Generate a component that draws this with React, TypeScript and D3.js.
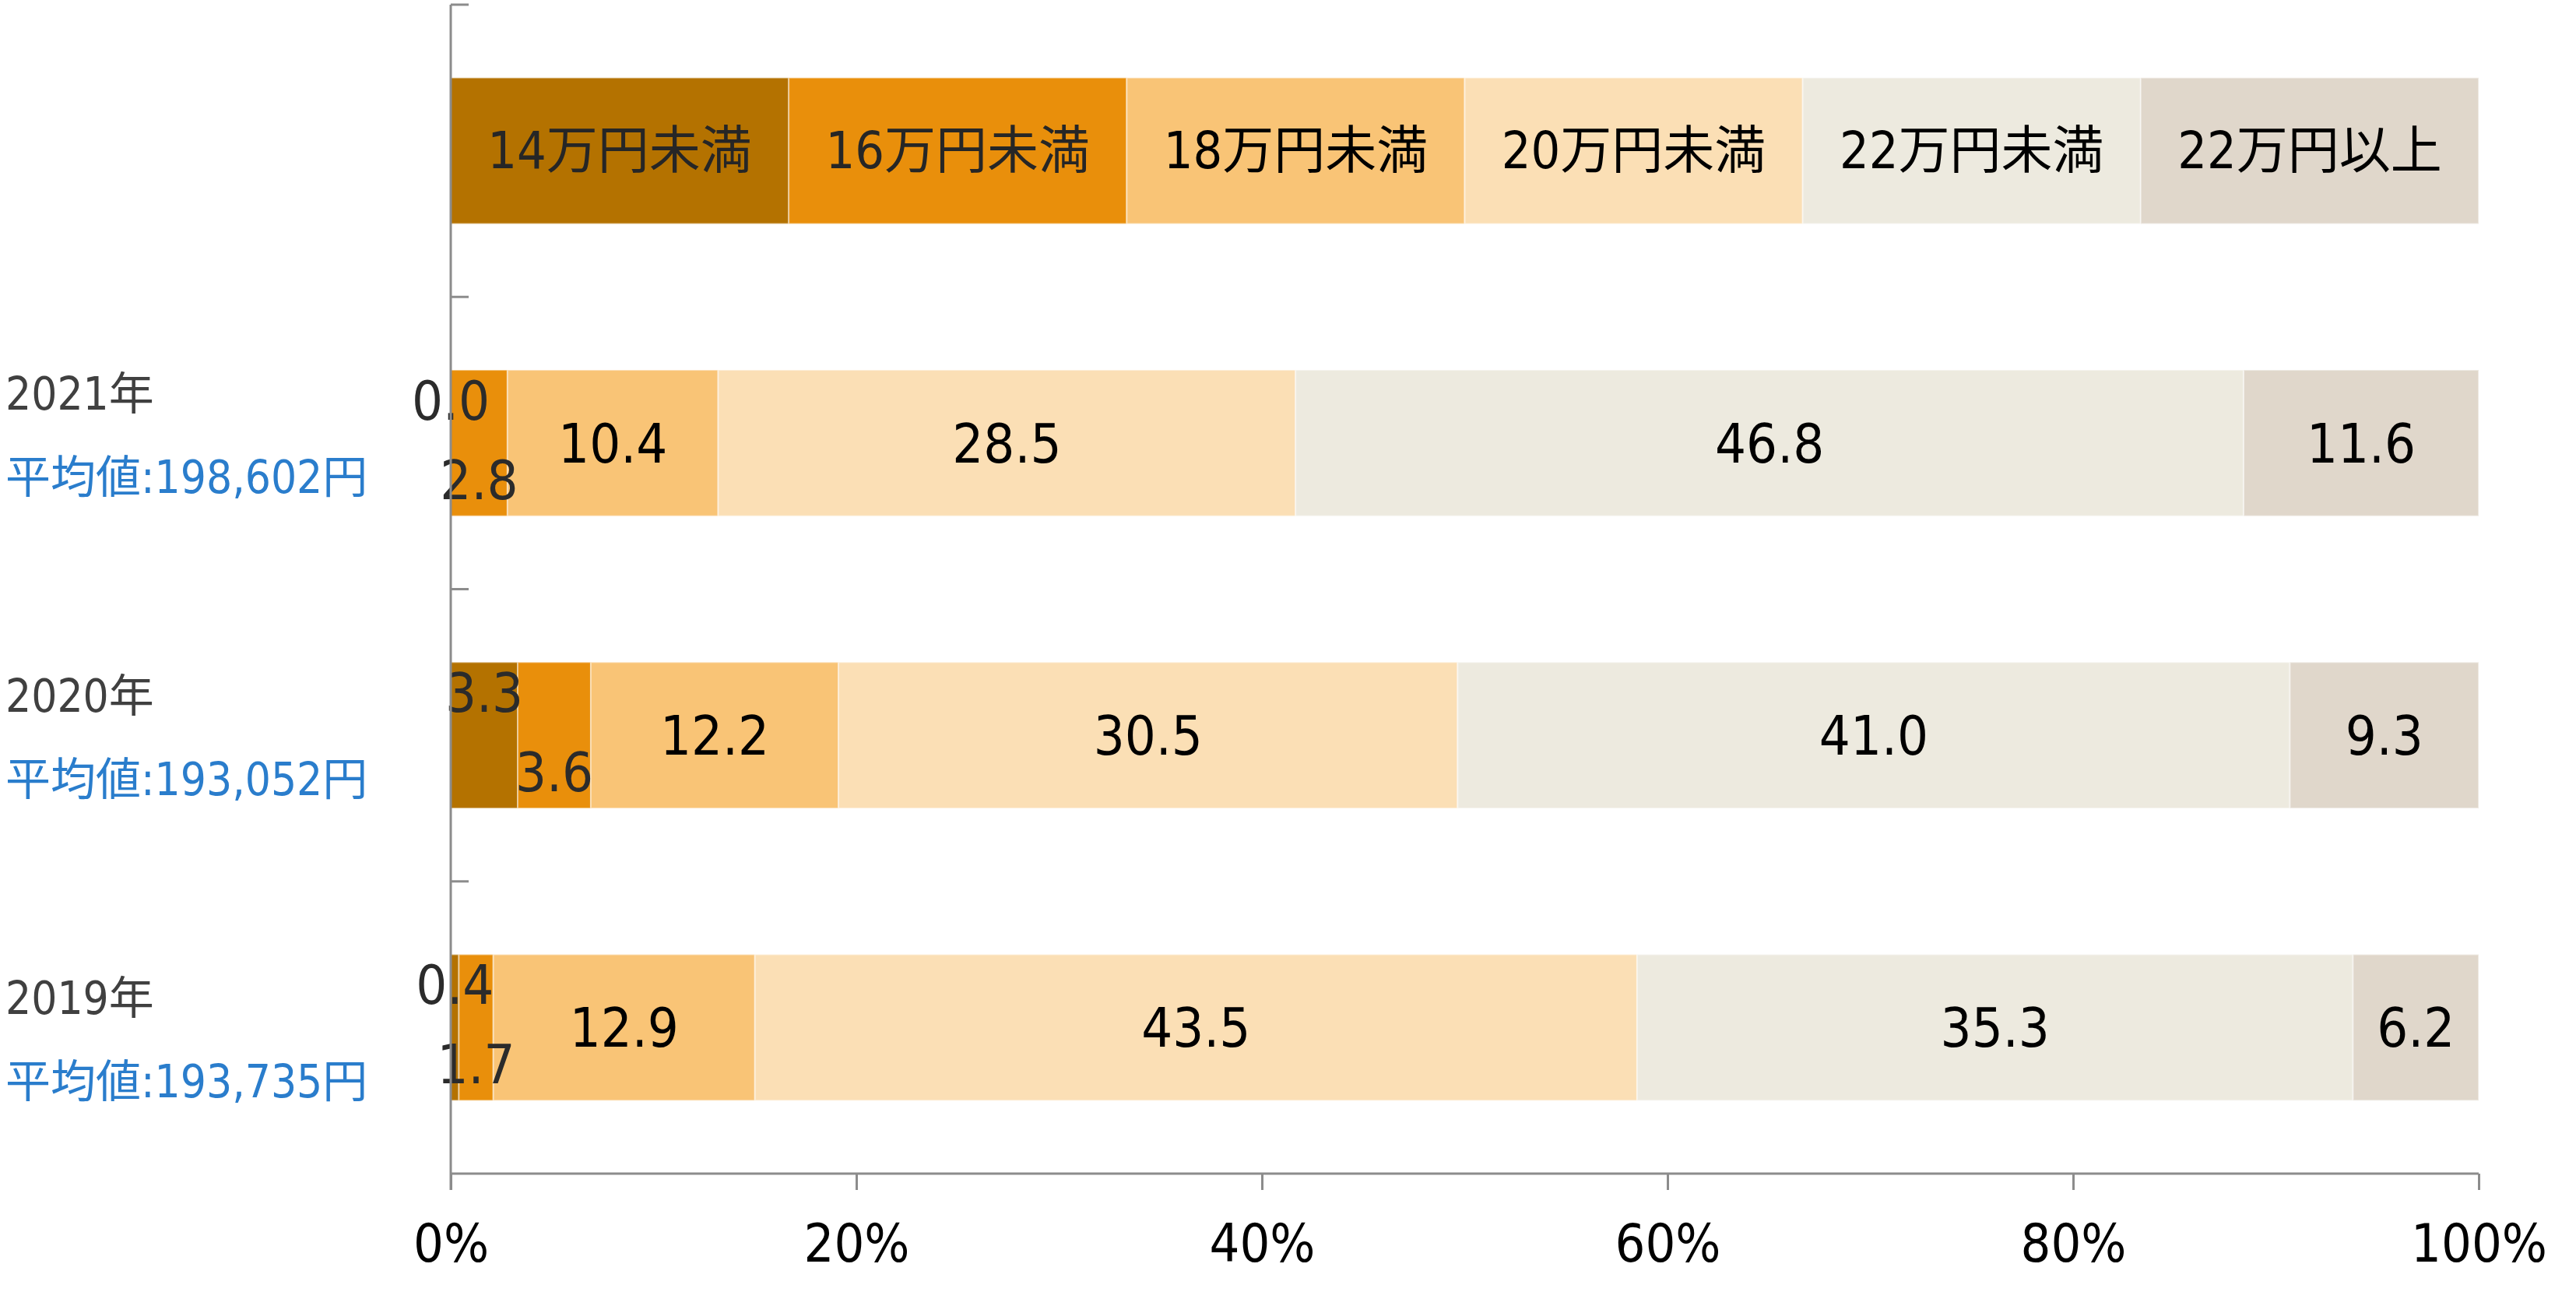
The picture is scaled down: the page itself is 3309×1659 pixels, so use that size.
import { useEffect, useRef } from 'react'
import * as d3 from 'd3'

// income brackets (series) and their colours
const categories = ['14万円未満', '16万円未満', '18万円未満', '20万円未満', '22万円未満', '22万円以上']
const colors = ['#B47200', '#E98F0B', '#F9C476', '#FBDFB5', '#EDEADF', '#E0D7CB']

// rows: first row is the legend strip, then one per year
const rowKeys = ['legend', '2021', '2020', '2019']
const yearLabels = ['2021年', '2020年', '2019年']
const averageLabels = ['平均値:198,602円', '平均値:193,052円', '平均値:193,735円']

const legendShares = [1, 1, 1, 1, 1, 1]
const values2021 = [0.0, 2.8, 10.4, 28.5, 46.8, 11.6]
const values2020 = [3.3, 3.6, 12.2, 30.5, 41.0, 9.3]
const values2019 = [0.4, 1.7, 12.9, 43.5, 35.3, 6.2]

const xTicks = [0, 0.2, 0.4, 0.6, 0.8, 1]

const W = 3309
const H = 1659
const FONT = '"DejaVu Sans Condensed", "Noto Sans CJK JP", sans-serif'

export default function App() {
  const svgRef = useRef<SVGSVGElement>(null)

  useEffect(() => {
    if (!svgRef.current) return
    const svg = d3.select(svgRef.current)
    svg.selectAll('*').remove()

    const rowValues = [legendShares, values2021, values2020, values2019]
    const table = rowKeys.map((key, i) => {
      const o: any = { key }
      categories.forEach((c, j) => { o[c] = rowValues[i][j] })
      return o
    })

    const stacked = d3.stack<any>()
      .keys(categories)
      .offset(d3.stackOffsetExpand)(table)

    const x = d3.scaleLinear().domain([0, 1]).range([579, 3184])
    const y = d3.scaleBand()
      .domain(rowKeys)
      .range([6, 1507])
      .paddingInner(0.5)
      .paddingOuter(0.25)

    const g = svg.append('g')

    // bars
    stacked.forEach((layer, si) => {
      g.append('g')
        .selectAll('rect')
        .data(layer)
        .enter().append('rect')
        .attr('x', d => x(d[0]))
        .attr('y', d => y(d.data.key) || 0)
        .attr('width', d => Math.max(0, x(d[1]) - x(d[0])))
        .attr('height', y.bandwidth())
        .attr('fill', colors[si])
        .attr('stroke', 'rgba(255,255,255,0.45)')
        .attr('stroke-width', 2)
    })

    // labels
    const fmt = d3.format('.1f')
    stacked.forEach((layer, si) => {
      g.append('g')
        .selectAll('text')
        .data(layer)
        .enter().append('text')
        .attr('x', d => x((d[0] + d[1]) / 2))
        .attr('y', d => {
          const cy = (y(d.data.key) || 0) + y.bandwidth() / 2
          if (d.data.key === 'legend') return cy + 22
          const v = d.data[categories[si]]
          if (v < 5 && si === 0) return cy - 30
          if (v < 5 && si === 1) return cy + 72
          return cy + 25
        })
        .attr('text-anchor', 'middle')
        .style('font-family', FONT)
        .style('font-size', d => d.data.key === 'legend' ? '66px' : '70px')
        .style('fill', d => {
          if (d.data.key === 'legend') return si < 2 ? '#262626' : '#000'
          return d.data[categories[si]] < 5 ? '#2b2b2b' : '#000'
        })
        .text(d => d.data.key === 'legend' ? categories[si] : fmt(d.data[categories[si]]))
    })

    // vertical (category) axis with ticks at band boundaries
    const axisColor = '#8c8c8c'
    g.append('line')
      .attr('x1', x(0)).attr('x2', x(0))
      .attr('y1', 6).attr('y2', 1528)
      .attr('stroke', axisColor).attr('stroke-width', 3)
    const boundaries = rowKeys.map(k => (y(k) || 0) - y.step() * 0.25)
    g.selectAll('.ytick')
      .data(boundaries)
      .enter().append('line')
      .attr('class', 'ytick')
      .attr('x1', x(0)).attr('x2', x(0) + 23)
      .attr('y1', d => d).attr('y2', d => d)
      .attr('stroke', axisColor).attr('stroke-width', 3)

    // horizontal axis
    const axisY = 1507
    const xAxis = d3.axisBottom(x)
      .tickValues(xTicks)
      .tickFormat(d => `${Math.round(+d * 100)}%`)
      .tickSize(21)
      .tickPadding(92)
    const xg = g.append('g')
      .attr('transform', `translate(0,${axisY})`)
      .call(xAxis)
    xg.select('.domain')
      .attr('stroke', axisColor).attr('stroke-width', 3)
      .attr('d', `M${x(0)},0H${x(1)}`)
    xg.selectAll('.tick line').attr('stroke', axisColor).attr('stroke-width', 3)
    xg.selectAll('.tick text')
      .attr('dy', 0)
      .attr('y', 113)
      .style('font-family', FONT)
      .style('font-size', '68px')
      .style('fill', '#000')

    // year + average annotations on the left
    const yearBase = 526
    const avgBase = 633
    const labelStep = 388
    yearLabels.forEach((t, i) => {
      g.append('text')
        .attr('x', 7)
        .attr('y', yearBase + i * labelStep)
        .style('font-family', FONT)
        .style('font-size', '58px')
        .style('fill', '#404040')
        .text(t)
      g.append('text')
        .attr('x', 7)
        .attr('y', avgBase + i * labelStep)
        .style('font-family', FONT)
        .style('font-size', '58px')
        .style('fill', '#2A7DCC')
        .text(averageLabels[i])
    })
  }, [])

  return (
    <div style={{ position: 'absolute', left: 0, top: 0, width: W, height: H, background: '#fff' }}>
      <svg ref={svgRef} width={W} height={H} style={{ display: 'block' }} />
    </div>
  )
}
